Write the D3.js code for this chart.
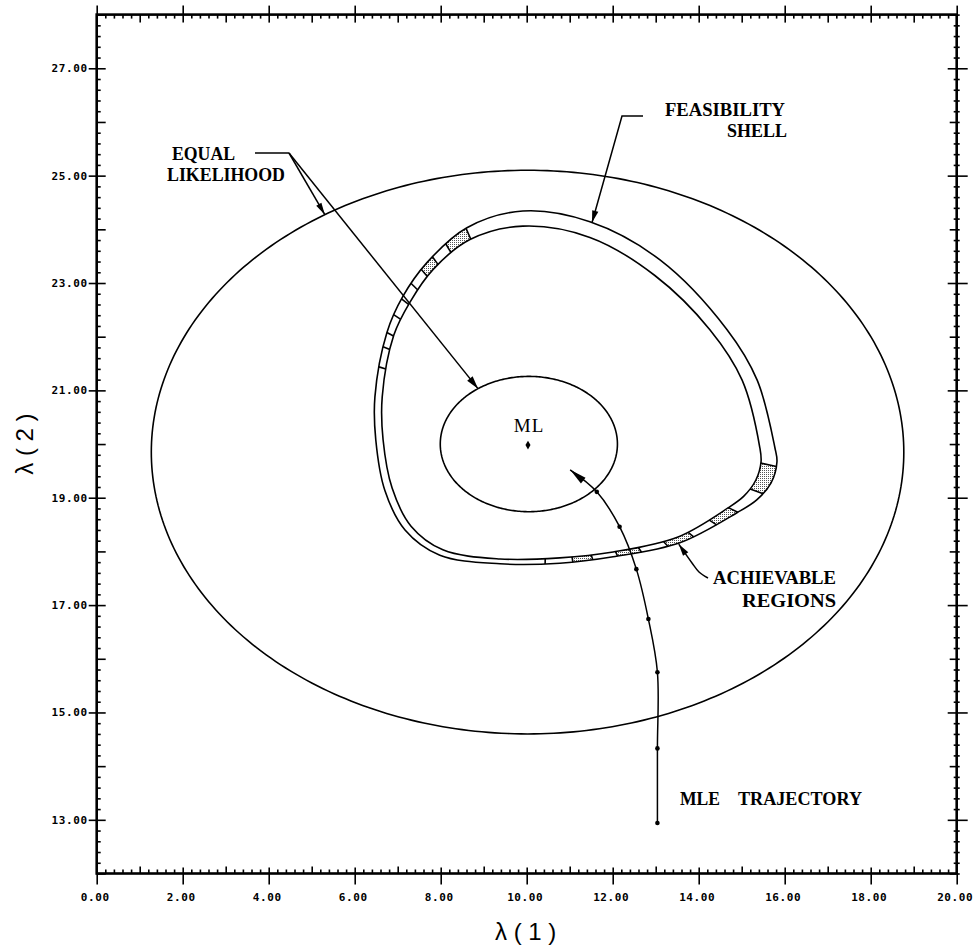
<!DOCTYPE html>
<html>
<head>
<meta charset="utf-8">
<script src="https://cdn.jsdelivr.net/npm/d3@7"></script>
<style>
  body { margin: 0; background: #fff; }
  svg { display: block; }
</style>
</head>
<body>
<svg id="chart" width="977" height="949"></svg>
<script>
// ---- axes ----
const xDomain = [0, 20];
const yDomain = [12, 28];
const xTickValues = [0, 2, 4, 6, 8, 10, 12, 14, 16, 18, 20];
const xTickLabels = ["0.00", "2.00", "4.00", "6.00", "8.00", "10.00", "12.00", "14.00", "16.00", "18.00", "20.00"];
const yTickValues = [13, 15, 17, 19, 21, 23, 25, 27];
const yTickLabels = ["13.00", "15.00", "17.00", "19.00", "21.00", "23.00", "25.00", "27.00"];

// ---- maximum-likelihood point and equal-likelihood contours ----
const mlPoint = [10.03, 19.98];
const innerContour = { cx: 10.05, cy: 20.0, rx: 2.06, ry: 1.26 };
const outerContour = { cx: 10.02, cy: 19.85, rx: 8.75, ry: 5.25 };

// ---- feasibility shell (outer and inner boundary) ----
const shellOuter = [[9.91,24.34],[11.47,24.14],[13.10,23.43],[14.66,22.13],[15.36,21.19],[15.77,19.94],[15.82,19.67],[15.68,19.27],[15.35,18.96],[14.89,18.72],[13.56,18.16],[12.01,17.90],[10.77,17.78],[9.38,17.77],[7.98,17.93],[7.17,18.40],[6.70,19.14],[6.49,20.08],[6.47,20.88],[6.75,22.08],[7.12,22.75],[7.68,23.38],[8.61,24.03]];
const shellInner = [[9.91,24.06],[11.47,23.85],[12.98,23.14],[14.26,22.13],[15.01,21.19],[15.42,19.94],[15.45,19.67],[15.33,19.33],[15.05,19.03],[14.68,18.81],[13.52,18.27],[12.01,17.99],[10.77,17.88],[9.38,17.86],[8.05,18.03],[7.31,18.47],[6.87,19.18],[6.66,20.08],[6.64,20.88],[6.91,22.03],[7.29,22.65],[7.82,23.25],[8.68,23.81]];
const shellCenter = [10.5, 20.5];

// achievable cells along the shell: polar angle (deg) bounds about shellCenter
const cellBoundsUpper = [118.5, 126.4, 132.0, 137.0, 142.0, 147.1, 152.0, 157.2, 161.1, 166.6];
const cellBoundsLower = [-91.5, -78.0, -68.7, -58.0, -49.2, -40.8, -33.4, -27.1, -21.9, -15.9, -9.8];
const shadedCells = [[118.5, 126.4], [132.0, 137.0], [-78.0, -68.7], [-58.0, -49.2], [-40.8, -33.4], [-27.1, -21.9], [-15.9, -9.8]];

// ---- MLE trajectory (start at bottom, ends near ML) ----
const trajX = [13.04, 13.04, 13.04, 12.83, 12.55, 12.16, 11.63, 11.01];
const trajY = [12.94, 14.33, 15.75, 16.74, 17.67, 18.46, 19.11, 19.52];

// ---------------------------------------------------------------
const svg = d3.select("#chart");
const x = d3.scaleLinear().domain(xDomain).range([96.7, 956.7]);
const y = d3.scaleLinear().domain(yDomain).range([873.5, 14.6]);

const defs = svg.append("defs");
const pat = defs.append("pattern").attr("id", "stipple")
  .attr("patternUnits", "userSpaceOnUse").attr("width", 2).attr("height", 2);
pat.append("rect").attr("width", 2).attr("height", 2).attr("fill", "#fff");
pat.append("rect").attr("width", 1).attr("height", 1).attr("fill", "#555");

// ---- tick marks ----
const allX = d3.range(0, 101).map(i => +(i * 0.2).toFixed(1));
const allY = d3.range(0, 81).map(i => +(12 + i * 0.2).toFixed(1));
const xMinor = allX.filter(v => Math.abs(v - Math.round(v)) > 1e-6);
const yMinor = allY.filter(v => Math.abs(v - Math.round(v)) > 1e-6);
const xMid = d3.range(1, 20, 2);
const yMid = d3.range(12, 29, 2);

function tickSet(gen, tx, ty, values, size, fmt, pad) {
  const g = svg.append("g").attr("transform", `translate(${tx},${ty})`)
    .call(gen.tickValues(values).tickSize(size).tickSizeOuter(0)
      .tickPadding(pad || 3).tickFormat(fmt || (() => "")));
  g.select(".domain").remove();
  g.selectAll("line").attr("stroke", "#000").attr("stroke-width", 1.6);
  g.selectAll("text").attr("fill", "#000")
    .style("font-family", "'DejaVu Sans Mono', monospace")
    .style("font-weight", "bold").style("font-size", "11px")
    .style("letter-spacing", "0.6px");
  return g;
}
const X0 = x(0), X1 = x(20), Y0 = y(12), Y1 = y(28);

// bottom
tickSet(d3.axisTop(x), 0, Y0, xMinor, 4);
tickSet(d3.axisTop(x), 0, Y0, xMid, 7);
tickSet(d3.axisTop(x), 0, Y0, xTickValues, 6);
tickSet(d3.axisBottom(x), 0, Y0, xTickValues, 11, (d, i) => xTickLabels[i], 9)
  .selectAll("text").attr("dx", -2);
// top
tickSet(d3.axisBottom(x), 0, Y1, xMinor, 4);
tickSet(d3.axisBottom(x), 0, Y1, xMid, 8);
tickSet(d3.axisBottom(x), 0, Y1, xTickValues, 8);
tickSet(d3.axisTop(x), 0, Y1, xTickValues, 9);
// left
tickSet(d3.axisRight(y), X0, 0, yMinor, 4);
tickSet(d3.axisRight(y), X0, 0, yMid, 9);
tickSet(d3.axisRight(y), X0, 0, yTickValues, 9);
tickSet(d3.axisLeft(y), X0, 0, yTickValues, 8, (d, i) => yTickLabels[i], 1);
// right
tickSet(d3.axisLeft(y), X1, 0, yMinor, 3);
tickSet(d3.axisRight(y), X1, 0, yMinor, 3);
tickSet(d3.axisLeft(y), X1, 0, yMid, 7);
tickSet(d3.axisRight(y), X1, 0, yMid, 3);
tickSet(d3.axisLeft(y), X1, 0, yTickValues, 9);
tickSet(d3.axisRight(y), X1, 0, yTickValues, 11);

// frame
svg.append("rect").attr("x", X0).attr("y", Y1).attr("width", X1 - X0).attr("height", Y0 - Y1)
  .attr("fill", "none").attr("stroke", "#000").attr("stroke-width", 2.6);

// axis titles
svg.append("text").attr("x", x(10) - 1).attr("y", 940).attr("text-anchor", "middle")
  .style("font-family", "'Liberation Sans', Arial, sans-serif").style("font-size", "24px")
  .attr("xml:space", "preserve").text("λ ( 1 )");
svg.append("text").attr("transform", `translate(33,${y(20)}) rotate(-90)`).attr("text-anchor", "middle")
  .style("font-family", "'Liberation Sans', Arial, sans-serif").style("font-size", "24px")
  .attr("xml:space", "preserve").text("λ ( 2 )");

// ---- contours ----
function ellipsePts(e, n) {
  return d3.range(n).map(i => {
    const t = 2 * Math.PI * i / n;
    return [e.cx + e.rx * Math.cos(t), e.cy + e.ry * Math.sin(t)];
  });
}
function ellipseAt(e, deg) {
  const t = deg * Math.PI / 180;
  return [x(e.cx + e.rx * Math.cos(t)), y(e.cy + e.ry * Math.sin(t))];
}
const closedLine = d3.line().x(d => x(d[0])).y(d => y(d[1])).curve(d3.curveLinearClosed);
[outerContour, innerContour].forEach(e => {
  svg.append("path").attr("d", closedLine(ellipsePts(e, 360)))
    .attr("fill", "none").attr("stroke", "#000").attr("stroke-width", 1.6);
});

// ---- feasibility shell ----
const shellLine = d3.line().x(d => x(d[0])).y(d => y(d[1])).curve(d3.curveCatmullRomClosed.alpha(0.5));
function sampleShell(points, n) {
  const p = svg.append("path").attr("d", shellLine(points));
  const node = p.node(), L = node.getTotalLength();
  const out = [];
  for (let i = 0; i < n; i++) {
    const q = node.getPointAtLength(L * i / n);
    const dx = x.invert(q.x) - shellCenter[0], dy = y.invert(q.y) - shellCenter[1];
    out.push({ px: q.x, py: q.y, a: Math.atan2(dy, dx) * 180 / Math.PI });
  }
  p.remove();
  return out;
}
const wrap = d => { while (d > 180) d -= 360; while (d <= -180) d += 360; return d; };
function atAngle(s, theta) {
  for (let i = 0; i < s.length; i++) {
    const p = s[i], q = s[(i + 1) % s.length];
    const d = wrap(q.a - p.a);
    if (d === 0) continue;
    const f = wrap(theta - p.a) / d;
    if (f >= 0 && f <= 1) return [p.px + (q.px - p.px) * f, p.py + (q.py - p.py) * f];
  }
  return [s[0].px, s[0].py];
}
const outerS = sampleShell(shellOuter, 1500);
const innerS = sampleShell(shellInner, 1500);

function cellPath(a1, a2) {
  const pts = [];
  for (let t = a1; t < a2; t += 0.25) pts.push(atAngle(outerS, t));
  pts.push(atAngle(outerS, a2));
  for (let t = a2; t > a1; t -= 0.25) pts.push(atAngle(innerS, t));
  pts.push(atAngle(innerS, a1));
  return "M" + pts.map(p => p.join(",")).join("L") + "Z";
}
svg.append("g").selectAll("path").data(shadedCells).join("path")
  .attr("d", d => cellPath(d[0], d[1])).attr("fill", "url(#stipple)").attr("stroke", "none");

[shellOuter, shellInner].forEach(pts => {
  svg.append("path").attr("d", shellLine(pts))
    .attr("fill", "none").attr("stroke", "#000").attr("stroke-width", 1.6);
});
svg.append("g").selectAll("line").data(cellBoundsUpper.concat(cellBoundsLower)).join("line")
  .each(function (a) {
    const o = atAngle(outerS, a), n = atAngle(innerS, a);
    d3.select(this).attr("x1", o[0]).attr("y1", o[1]).attr("x2", n[0]).attr("y2", n[1]);
  })
  .attr("stroke", "#000").attr("stroke-width", 1.6);

// ---- arrowheads ----
function arrowHead(from, tip, len, half) {
  const dx = tip[0] - from[0], dy = tip[1] - from[1];
  const L = Math.hypot(dx, dy), ux = dx / L, uy = dy / L;
  const bx = tip[0] - ux * len, by = tip[1] - uy * len;
  return `M${tip[0]},${tip[1]}L${bx - uy * half},${by + ux * half}L${bx + uy * half},${by - ux * half}Z`;
}
function leader(pts, len, half) {
  svg.append("path").attr("d", d3.line()(pts)).attr("fill", "none")
    .attr("stroke", "#000").attr("stroke-width", 1.5);
  svg.append("path").attr("d", arrowHead(pts[pts.length - 2], pts[pts.length - 1], len, half))
    .attr("fill", "#000");
}

// ---- MLE trajectory ----
const traj = trajX.map((v, i) => [v, trajY[i]]);
svg.append("path")
  .attr("d", d3.line().x(d => x(d[0])).y(d => y(d[1])).curve(d3.curveCatmullRom.alpha(0.5))(traj))
  .attr("fill", "none").attr("stroke", "#000").attr("stroke-width", 1.5);
svg.append("g").selectAll("circle").data(traj.slice(0, -1)).join("circle")
  .attr("cx", d => x(d[0])).attr("cy", d => y(d[1])).attr("r", 2.3).attr("fill", "#000");
{
  const n = traj.length;
  const tip = [x(traj[n - 1][0]), y(traj[n - 1][1])];
  const from = [x(traj[n - 2][0]), y(traj[n - 2][1])];
  svg.append("path").attr("d", arrowHead(from, tip, 17, 3.6)).attr("fill", "#000");
}

// ---- ML point ----
svg.append("path").attr("d", d3.symbol(d3.symbolDiamond, 22)())
  .attr("transform", `translate(${x(mlPoint[0])},${y(mlPoint[1])})`).attr("fill", "#000");
svg.append("text").attr("x", x(mlPoint[0]) + 1).attr("y", y(mlPoint[1]) - 13)
  .attr("text-anchor", "middle")
  .style("font-family", "'Liberation Serif', 'Times New Roman', serif").style("font-size", "19px")
  .style("letter-spacing", "1px").text("ML");

// ---- annotations ----
function label(txt, px, py, w) {
  svg.append("text").attr("x", px).attr("y", py)
    .attr("textLength", w).attr("lengthAdjust", "spacingAndGlyphs")
    .style("font-family", "'Liberation Serif', 'Times New Roman', serif")
    .style("font-weight", "bold").style("font-size", "18px").text(txt);
}
label("EQUAL", 172, 160, 63);
label("LIKELIHOOD", 167, 181, 118);
label("FEASIBILITY", 665, 116, 120);
label("SHELL", 727, 137, 60);
label("ACHIEVABLE", 713, 584, 123);
label("REGIONS", 742, 607, 94);
label("MLE", 680, 805, 40);
label("TRAJECTORY", 738, 805, 124);

// equal-likelihood leaders
const hub = [289, 153];
svg.append("line").attr("x1", 255).attr("y1", hub[1]).attr("x2", hub[0]).attr("y2", hub[1])
  .attr("stroke", "#000").attr("stroke-width", 1.6);
leader([hub, ellipseAt(outerContour, 122.6)], 12, 3);
leader([hub, ellipseAt(innerContour, 125)], 13, 3.5);
// feasibility shell leader
leader([[643, 116], [622, 116], atAngle(outerS, 74.3)], 12, 3.2);
// achievable regions leader
{
  const tip = atAngle(outerS, -37.7);
  const pts = [[708, 578], [699, 572], [692, 563], [tip[0], tip[1] + 1]];
  svg.append("path").attr("d", d3.line().curve(d3.curveCatmullRom)(pts)).attr("fill", "none")
    .attr("stroke", "#000").attr("stroke-width", 1.5);
  svg.append("path").attr("d", arrowHead(pts[2], pts[3], 12, 3.2)).attr("fill", "#000");
}
</script>
</body>
</html>
